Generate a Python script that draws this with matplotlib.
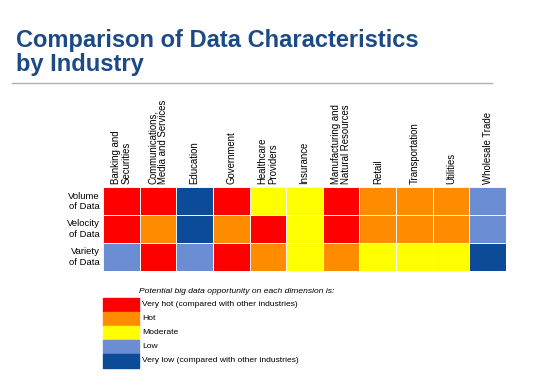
import numpy as np
import matplotlib.pyplot as plt
from matplotlib.colors import ListedColormap
from matplotlib.patches import Rectangle

plt.rcParams['font.family'] = ['Liberation Sans', 'DejaVu Sans']

# data: 4 = very hot ... 0 = very low
industries = ["Banking and\nSecurities", "Communications,\nMedia and Services", "Education",
              "Government", "Healthcare\nProviders", "Insurance",
              "Manufacturing and\nNatural Resources", "Retail", "Transportation",
              "Utilities", "Wholesale Trade"]
dimensions = ["Volume\nof Data", "Velocity\nof Data", "Variety\nof Data"]
volume = [4, 4, 0, 4, 2, 2, 4, 3, 3, 3, 1]
velocity = [4, 3, 0, 3, 4, 2, 4, 3, 3, 3, 1]
variety = [1, 4, 1, 4, 3, 2, 3, 2, 2, 2, 0]
levels = ["Very low (compared with other industries)", "Low", "Moderate", "Hot",
          "Very hot (compared with other industries)"]
colors = ["#0B4B98", "#6A8DD4", "#FFFF00", "#FF8C00", "#FF0000"]

W, H = 542, 388
fig = plt.figure(figsize=(W / 100, H / 100), dpi=100)

def fx(x):
    return x / W

def fy(y):
    return 1 - y / H

# title
title_col = "#1B4A85"
fig.text(fx(16), fy(47), "Comparison of Data Characteristics", fontsize=17,
         fontweight="bold", color=title_col, va="baseline")
fig.text(fx(16), fy(71), "by Industry", fontsize=17, fontweight="bold",
         color=title_col, va="baseline")
fig.add_artist(plt.Line2D([fx(12), fx(492)], [fy(82.5), fy(82.5)], color="#A8B0B8", lw=1))

# heatmap
x0, x1, y0, y1 = 103, 506, 187.5, 271
ax = fig.add_axes([fx(x0), fy(y1), (x1 - x0) / W, (y1 - y0) / H])
data = np.array([volume, velocity, variety])
ax.pcolormesh(data, cmap=ListedColormap(colors), vmin=-0.5, vmax=4.5,
              edgecolors="#F4F4F4", linewidth=0.4)
ax.set_xlim(0, len(industries))
ax.set_ylim(len(dimensions), 0)
ax.axis("off")

cw = (x1 - x0) / len(industries)
rh = (y1 - y0) / len(dimensions)
for i, name in enumerate(industries):
    fig.text(fx(x0 + cw * (i + 0.5)), fy(184), name, rotation=90, fontsize=6.9,
             ha="left", va="center", rotation_mode="anchor", linespacing=1.05)
for j, name in enumerate(dimensions):
    fig.text(fx(100), fy(y0 + rh * (j + 0.5)), name, fontsize=6.8, ha="right",
             va="center", multialignment="right", linespacing=1.25)

# legend
fig.text(fx(139), fy(293), "Potential big data opportunity on each dimension is:",
         fontsize=6.1, style="italic", va="baseline")
bh = 14
for k, lab in enumerate(levels[::-1]):
    top = 298 + k * bh
    fig.add_artist(Rectangle((fx(103), fy(top + bh)), 36 / W, bh / H,
                             color=colors[::-1][k], transform=fig.transFigure))
    fig.text(fx(142), fy(top + bh / 2), lab, fontsize=6.1, va="center")

fig.savefig("out.png", dpi=100)
